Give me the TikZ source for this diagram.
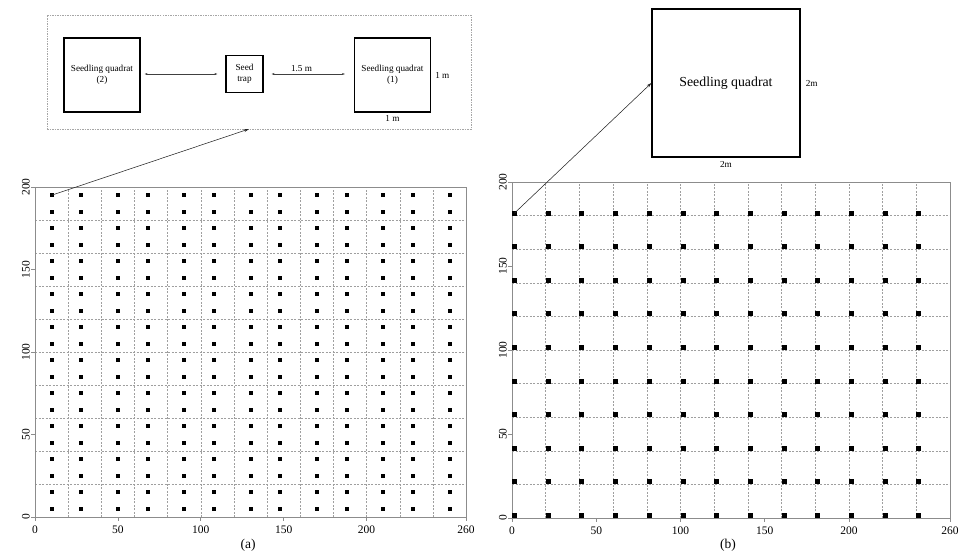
\documentclass[tikz,border=0pt]{standalone}
\usepackage{fontspec}
\setmainfont{Liberation Serif}
\usetikzlibrary{arrows.meta}

\begin{document}
\begin{tikzpicture}[x=1pt, y=-1pt,
    gridline/.style={gray!75, dash pattern=on 2pt off 1.5pt, line width=0.45pt},
    frame/.style={gray!90, line width=0.7pt},
    ticklabel/.style={font=\fontsize{11.5}{13}\selectfont, inner sep=1pt},
    quadrat/.style={draw, line width=1.1pt, minimum width=76pt, minimum height=74pt,
        inner sep=0pt, align=center, font=\fontsize{9.2}{10.5}\selectfont},
    trapbox/.style={draw, line width=1.1pt, minimum size=37pt, inner sep=0pt,
        align=center, font=\fontsize{9.2}{10.5}\selectfont},
    dimlabel/.style={font=\fontsize{9.2}{10.5}\selectfont, inner sep=1pt, text=black},
    pointer/.style={-{Stealth[length=5pt, width=3pt]}, line width=0.55pt, black!85},
    measure/.style={{Stealth[length=3pt, width=2pt]}-{Stealth[length=3pt, width=2pt]},
        line width=0.4pt, black!75}]

    \useasboundingbox (0,0) rectangle (960,558);

    % --- Plot (a): 13 columns, two rows of seed squares per band ---
    \begin{scope}[shift={(35,517)}, x=1.658pt, y=1.65pt]
        \foreach \gx in {20,40,...,240}
            \draw[gridline] (\gx,0) -- (\gx,200);
        \foreach \gy in {20,40,...,180}
            \draw[gridline] (0,\gy) -- (260,\gy);
        \draw[frame] (0,0) rectangle (260,200);

        % ticks and labels
        \foreach \tx in {0,50,100,150,200,260}
            \draw[frame] (\tx,0) -- ++(0,-4pt) node[below=3pt, ticklabel, text=black] {\tx};
        \foreach \ty in {0,50,100,150,200}
            \draw[frame] (0,\ty) -- ++(-4pt,0) node[rotate=90, anchor=south, ticklabel, text=black] {\ty};

        % seed squares
        \foreach \k in {0,...,6}
            \foreach \j in {0,...,9} {
                \fill ({40*\k+10},{20*\j+5}) +(-2pt,-2pt) rectangle +(2pt,2pt);
                \fill ({40*\k+10},{20*\j+15}) +(-2pt,-2pt) rectangle +(2pt,2pt);
            }
        \foreach \k in {0,...,5}
            \foreach \j in {0,...,9} {
                \fill ({40*\k+28},{20*\j+5}) +(-2pt,-2pt) rectangle +(2pt,2pt);
                \fill ({40*\k+28},{20*\j+15}) +(-2pt,-2pt) rectangle +(2pt,2pt);
            }
        \coordinate (a-seed) at (10,195);
    \end{scope}

    % --- Plot (b): one square at each grid crossing ---
    \begin{scope}[shift={(512,518)}, x=1.685pt, y=1.68pt]
        \foreach \gx in {20,40,...,240}
            \draw[gridline] (\gx,0) -- (\gx,200);
        \foreach \gy in {20,40,...,180}
            \draw[gridline] (0,\gy) -- (260,\gy);
        \draw[frame] (0,0) rectangle (260,200);

        \foreach \tx in {0,50,100,150,200,260}
            \draw[frame] (\tx,0) -- ++(0,-4pt) node[below=3pt, ticklabel, text=black] {\tx};
        \foreach \ty in {0,50,100,150,200}
            \draw[frame] (0,\ty) -- ++(-4pt,0) node[rotate=90, anchor=south, ticklabel, text=black] {\ty};

        \foreach \i in {0,...,12}
            \foreach \j in {0,...,9}
                \fill ({20*\i+1.5},{20*\j+1.5}) +(-2.5pt,-2.5pt) rectangle +(2.5pt,2.5pt);
        \coordinate (b-seed) at (1.5,181.5);
    \end{scope}

    % --- Inset above (a) ---
    \node[draw, gray!70, dash pattern=on 1.5pt off 1pt, line width=0.5pt,
        minimum width=424pt, minimum height=114pt] (inset) at (259,72) {};
    \coordinate (inset-tip) at (249,129);

    \node[quadrat] (q2) at (102,75) {Seedling quadrat\\(2)};
    \node[trapbox] (trap) at (244.5,74) {Seed\\trap};
    \node[quadrat] (q1) at (392.5,75) {Seedling quadrat\\(1)};

    \draw[measure, shorten <=4pt, shorten >=8pt] (q2.east |- trap.west) -- (trap.west);
    \draw[measure, shorten <=8pt, shorten >=9pt] (trap.east) -- (q1.west |- trap.east)
        node[pos=0.42, above=1pt, dimlabel] {1.5 m};
    \node[dimlabel, right=3pt] (q1-side) at (q1.east) {1 m};
    \node[dimlabel, below=2pt] (q1-base) at (q1.south) {1 m};

    \draw[pointer] (a-seed) -- (inset-tip);

    % --- Inset above (b) ---
    \node[draw, line width=1.2pt, minimum size=148pt, inner sep=0pt,
        font=\fontsize{13.8}{16}\selectfont] (bigq) at (726,83) {Seedling quadrat};
    \node[dimlabel, right=4pt] (bigq-side) at (bigq.east) {2m};
    \node[dimlabel, below=3pt] (bigq-base) at (bigq.south) {2m};

    \draw[pointer] (b-seed) -- (bigq.west);

    % panel letters
    \node[font=\fontsize{13.5}{15}\selectfont] (lab-a) at (248,545) {(a)};
    \node[font=\fontsize{13.5}{15}\selectfont] (lab-b) at (728,545) {(b)};

\end{tikzpicture}
\end{document}
